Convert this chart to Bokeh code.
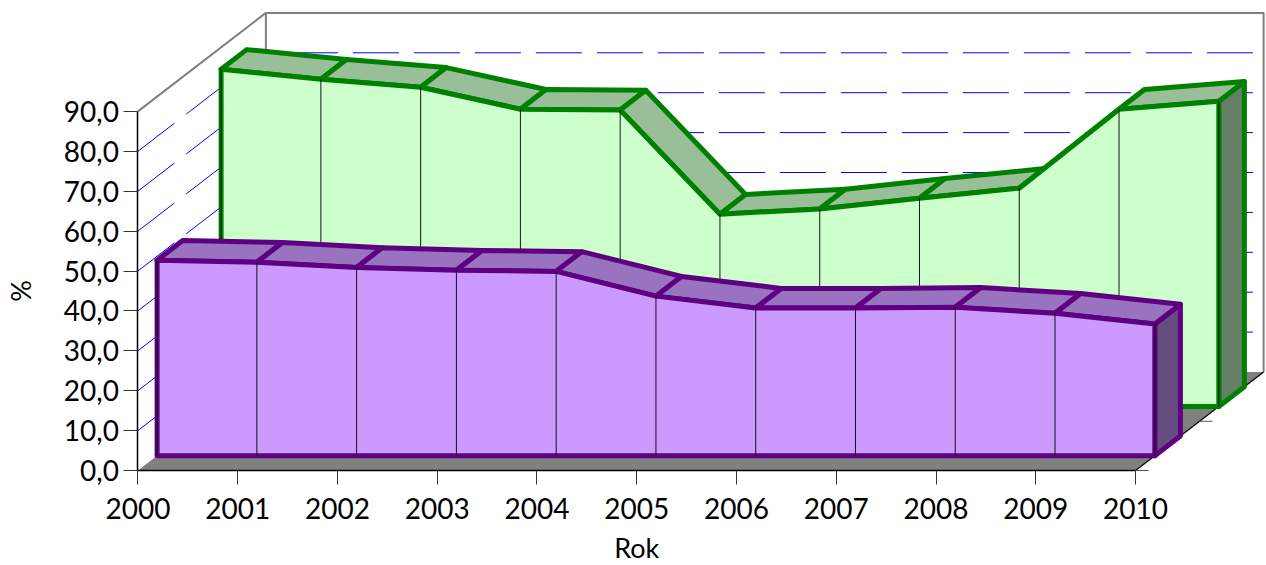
from bokeh.plotting import figure
from bokeh.models import FixedTicker, Range1d
from bokeh.core.properties import value
from bokeh.embed import file_html
from bokeh.resources import INLINE

years = [2000, 2001, 2002, 2003, 2004, 2005, 2006, 2007, 2008, 2009, 2010]
purple_values = [49.0, 48.5, 47.2, 46.5, 46.2, 40.0, 37.0, 37.0, 37.2, 35.7, 33.0]
green_values = [84.5, 82.0, 80.0, 74.5, 74.3, 48.2, 49.5, 52.2, 54.7, 74.5, 76.5]
y_ticks = [0, 10, 20, 30, 40, 50, 60, 70, 80, 90]
y_labels = ["0,0", "10,0", "20,0", "30,0", "40,0", "50,0", "60,0", "70,0", "80,0", "90,0"]
grid_levels = [10, 20, 30, 40, 50, 60, 70, 80]

W, H = 1266, 565
LEFT, BOTTOM = 137.4, 95
PX_X = 99.77
PX_Y = 3.99
DX = 128.0 / PX_X   # depth vector in data units
DY = 98.5 / PX_Y

def px(year, val, d):
    return year + d * DX, val + d * DY

p = figure(width=W, height=H, output_backend="svg", toolbar_location=None,
           x_range=Range1d(2000 - LEFT / PX_X, 2000 + (W - LEFT) / PX_X),
           y_range=Range1d(-BOTTOM / PX_Y, (H - BOTTOM) / PX_Y),
           min_border_left=0, min_border_bottom=0, min_border_top=0, min_border_right=0)
p.outline_line_color = None
p.background_fill_color = "white"
p.border_fill_color = "white"
p.xgrid.visible = False
p.ygrid.visible = False

FONT = "Lato"
FS = "28px"
for ax, tk in ((p.xaxis, years), (p.yaxis, y_ticks)):
    ax.ticker = FixedTicker(ticks=tk)
    ax.minor_tick_line_color = None
    ax.major_tick_out = 14
    ax.major_tick_in = 0
    ax.major_tick_line_color = "#333333"
    ax.axis_line_color = "black"
    ax.axis_line_width = 1.5
    ax.major_label_text_font = FONT
    ax.major_label_text_font_size = FS
    ax.major_label_text_color = "black"
p.xaxis.fixed_location = 0
p.yaxis.fixed_location = 2000
p.xaxis.bounds = (2000, 2010)
p.yaxis.bounds = (0, 90)
p.yaxis.major_label_overrides = dict(zip(y_ticks, y_labels))
p.xaxis.major_label_overrides = {y: str(y) for y in years}
p.xaxis.major_label_standoff = 13
p.yaxis.major_label_standoff = 5

p.text([2005], [-77 / PX_Y], text=["Rok"], text_font=value(FONT), text_font_size="27px",
       text_align="center", text_baseline="middle", text_color="black")
p.text([2000 - 117 / PX_X], [45], text=["%"], text_font=value(FONT), text_font_size="27px",
       text_align="center", text_baseline="middle", text_color="black", angle=1.5708)

y0, y1 = years[0], years[-1]
top = y_ticks[-1]

# floor
fx, fy = zip(px(y0, 0, 0), px(y1, 0, 0), px(y1, 0, 1), px(y0, 0, 1))
p.patch(list(fx), list(fy), fill_color="#808080", line_color=None)

# grid lines on the back wall and on the side wall
for g in grid_levels:
    a = px(y0, g, 1)
    b = px(y1, g, 1)
    p.line([a[0], b[0]], [a[1], b[1]], line_color="#0000FF", line_width=1,
           line_dash="46 15", line_dash_offset=35)
    c = px(y0, g, 0)
    p.line([c[0], a[0]], [c[1], a[1]], line_color="#0000FF", line_width=1, line_dash="46 15")

# walls
wall = [px(y0, top, 0), px(y0, top, 1), px(y1, top, 1), px(y1, 0, 1)]
p.line([q[0] for q in wall], [q[1] for q in wall], line_color="#808080", line_width=2)
v = [px(y0, top, 1), px(y0, 0, 1)]
p.line([q[0] for q in v], [q[1] for q in v], line_color="#808080", line_width=2)

# depth axis
d = [px(y1, 0, 0), px(y1, 0, 1)]
p.line([q[0] for q in d], [q[1] for q in d], line_color="black", line_width=1.2)
for dd in (0, 0.5):
    a = px(y1, 0, dd)
    p.segment([a[0]], [a[1]], [a[0] + 13 / PX_X], [a[1]], line_color="#555555", line_width=1)


def series(vals, d0, d1, line, face, topc, side):
    lw = 5
    # right end
    e = [px(y1, 0, d0), px(y1, 0, d1), px(y1, vals[-1], d1), px(y1, vals[-1], d0)]
    p.patch([q[0] for q in e], [q[1] for q in e], fill_color=side, line_color=line,
            line_width=lw, line_join="round")
    # top facets
    for i in range(len(years) - 1):
        f = [px(years[i], vals[i], d0), px(years[i + 1], vals[i + 1], d0),
             px(years[i + 1], vals[i + 1], d1), px(years[i], vals[i], d1)]
        p.patch([q[0] for q in f], [q[1] for q in f], fill_color=topc, line_color=line,
                line_width=lw, line_join="round")
    # front
    fr = [px(y, w, d0) for y, w in zip(years, vals)]
    xs = [px(y0, 0, d0)[0]] + [q[0] for q in fr] + [px(y1, 0, d0)[0]]
    ys = [px(y0, 0, d0)[1]] + [q[1] for q in fr] + [px(y1, 0, d0)[1]]
    p.patch(xs, ys, fill_color=face, line_color=line, line_width=lw, line_join="round")
    # dividers
    p.segment([q[0] for q in fr], [px(y0, 0, d0)[1]] * len(fr), [q[0] for q in fr], [q[1] for q in fr],
              line_color="black", line_width=1, line_alpha=0.9)


series(green_values, 0.65, 0.85, "#008000", "#CCFFCC", "#99BF99", "#668066")
series(purple_values, 0.15, 0.35, "#5E0080", "#CC99FF", "#9973BF", "#664D80")

open("out.html", "w").write(file_html(p, INLINE))
